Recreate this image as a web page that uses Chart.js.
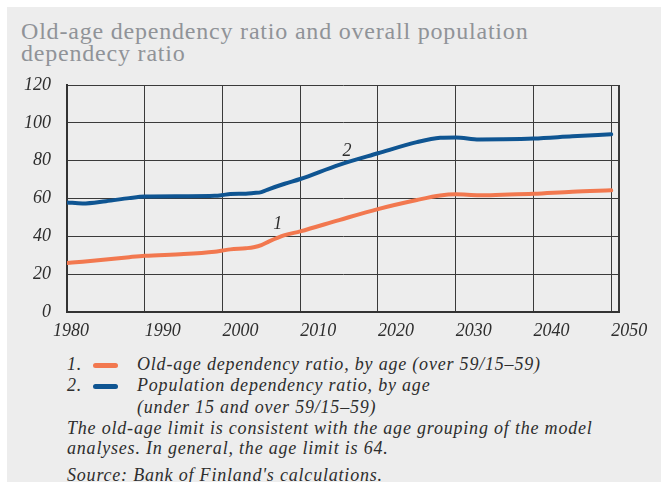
<!DOCTYPE html>
<html>
<head>
<meta charset="utf-8">
<script src="https://cdn.jsdelivr.net/npm/chart.js@4"></script>
<style>
  html, body { margin: 0; padding: 0; background: #fff; }
  body { width: 661px; height: 482px; position: relative; overflow: hidden; }
  #panel { position: absolute; left: 7px; top: 7px; right: 0; bottom: 0; background: #ededed; }
  #chartBox { position: absolute; left: 0; top: 0; width: 661px; height: 345px; }
  .title { position: absolute; left: 21px; font: 24px "Liberation Serif", serif; color: #909398; line-height: 22.4px; letter-spacing: 0.8px; white-space: nowrap; }
  .note { position: absolute; font: italic 18px "Liberation Serif", serif; color: #2e2e2e; line-height: 20px; letter-spacing: 0.8px; white-space: nowrap; }
  .swatch { position: absolute; left: 93px; width: 25px; height: 5px; border-radius: 3px; }
</style>
</head>
<body>
<div id="panel"></div>
<div class="title" style="top:20px">Old-age dependency ratio and overall population</div>
<div class="title" style="top:42.4px">dependecy ratio</div>
<div id="chartBox"><canvas id="ratio-chart"></canvas></div>

<div class="note" style="left:67px;top:353.6px">1.</div>
<div class="swatch" style="top:362.5px;background:#f2784f"></div>
<div class="note" style="left:137px;top:353.6px">Old-age dependency ratio, by age (over 59/15–59)</div>
<div class="note" style="left:67px;top:375.3px">2.</div>
<div class="swatch" style="top:384px;background:#0f5592"></div>
<div class="note" style="left:137px;top:375.3px">Population dependency ratio, by age</div>
<div class="note" style="left:137px;top:397px">(under 15 and over 59/15–59)</div>
<div class="note" style="left:67px;top:418px">The old-age limit is consistent with the age grouping of the model</div>
<div class="note" style="left:67px;top:438px">analyses. In general, the age limit is 64.</div>
<div class="note" style="left:67px;top:464.6px">Source: Bank of Finland's calculations.</div>

<script>
// years and ratios (%)
const years = [1980, 1982, 1985, 1988, 1990, 1995, 1999, 2000, 2001, 2003, 2004, 2005, 2006,
  2008, 2010, 2015, 2020, 2025, 2028, 2030, 2033, 2036, 2040, 2045, 2050];
const oldAgeRatio = [25.9, 26.6, 27.8, 29.0, 29.7, 30.6, 31.9, 32.5, 33.1, 33.7, 34.2, 35.3, 37.3,
  40.6, 42.6, 48.6, 54.4, 59.2, 61.6, 62.2, 61.7, 62.0, 62.5, 63.6, 64.3];
const populationRatio = [57.9, 57.4, 58.6, 60.2, 61.0, 61.2, 61.4, 61.8, 62.4, 62.5, 62.9, 63.4, 65.0,
  67.8, 70.3, 77.8, 83.9, 89.8, 92.1, 92.3, 91.2, 91.3, 91.7, 92.9, 94.0];

// decade gridlines, plus the frame edge just past 2050
const xTicks = [1980, 1990, 2000, 2010, 2020, 2030, 2040, 2050, 2051];

// series numbers written next to the lines: [text, year, value]
const lineTags = [['1', 2007.1, 46.6], ['2', 2016.0, 85.2]];

const tickFont = { family: '"Liberation Serif", serif', size: 18, style: 'italic' };

function toPoints(vals) {
  return years.map((y, i) => ({ x: y, y: vals[i] }));
}

// year labels sit just right of their gridline; the first one is pulled
// left so it clears the y axis
const labelPlugin = {
  id: 'yearLabels',
  afterDraw(chart) {
    const ctx = chart.ctx;
    const xs = chart.scales.x;
    ctx.save();
    ctx.font = 'italic 18px "Liberation Serif", serif';
    ctx.fillStyle = '#2e2e2e';
    ctx.textAlign = 'left';
    ctx.textBaseline = 'middle';
    xTicks.filter(v => v % 10 === 0).forEach((v, i) => {
      const px = xs.getPixelForValue(v) + (i === 0 ? -14 : 0);
      ctx.fillText(String(v), px, xs.top + 19);
    });
    ctx.restore();
  }
};

const tagPlugin = {
  id: 'lineTags',
  afterDatasetsDraw(chart) {
    const ctx = chart.ctx;
    const xs = chart.scales.x, ys = chart.scales.y;
    ctx.save();
    ctx.font = 'italic 18px "Liberation Serif", serif';
    ctx.fillStyle = '#2e2e2e';
    ctx.textAlign = 'center';
    ctx.textBaseline = 'middle';
    lineTags.forEach(t => {
      ctx.fillText(t[0], xs.getPixelForValue(t[1]), ys.getPixelForValue(t[2]));
    });
    ctx.restore();
  }
};

const ratioChart = new Chart(document.getElementById('ratio-chart'), {
  type: 'line',
  data: {
    datasets: [{
      data: toPoints(oldAgeRatio),
      borderColor: '#f2784f',
      borderWidth: 4,
      borderCapStyle: 'round',
      pointRadius: 0,
      cubicInterpolationMode: 'monotone'
    }, {
      data: toPoints(populationRatio),
      borderColor: '#0f5592',
      borderWidth: 4,
      borderCapStyle: 'round',
      pointRadius: 0,
      cubicInterpolationMode: 'monotone'
    }]
  },
  options: {
    responsive: true,
    maintainAspectRatio: false,
    animation: false,
    layout: { padding: { left: 0, top: 85, right: 42, bottom: 0 } },
    plugins: { legend: { display: false }, tooltip: { enabled: false } },
    scales: {
      x: {
        type: 'linear',
        min: 1980,
        max: 2051,
        afterFit: s => { s.height = 33; },
        afterBuildTicks: s => { s.ticks = xTicks.map(v => ({ value: v })); },
        grid: { color: '#3a3a3a', lineWidth: ctx => ctx.tick && ctx.tick.value === 2051 ? 2 : 1, drawTicks: false },
        border: { color: '#333', width: 2 },
        ticks: { display: false }
      },
      y: {
        min: 0,
        max: 120,
        afterFit: s => { s.width = 67; },
        grid: { color: '#3a3a3a', drawTicks: false },
        border: { color: '#333', width: 2 },
        ticks: { stepSize: 20, padding: 16, color: '#2e2e2e', font: tickFont }
      }
    }
  },
  plugins: [tagPlugin, labelPlugin]
});
</script>
</body>
</html>
